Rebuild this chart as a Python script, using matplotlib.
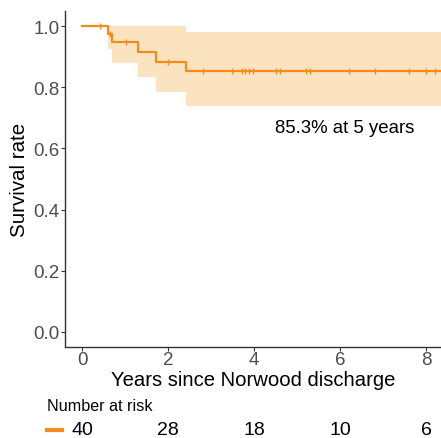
import matplotlib as mpl
mpl.use("Agg")
import matplotlib.pyplot as plt
import matplotlib.transforms as mtransforms
import numpy as np

# Kaplan-Meier estimate
km_time = [0.0, 0.61, 0.70, 1.31, 1.72, 2.42, 8.5]
km_surv = [1.0, 0.975, 0.947, 0.916, 0.884, 0.853, 0.853]
km_upper = [1.0, 1.0, 1.0, 1.0, 1.0, 0.981, 0.981]
km_lower = [1.0, 0.925, 0.878, 0.833, 0.786, 0.739, 0.739]
censor_times = [0.42, 0.64, 1.02, 2.0, 2.82, 3.5, 3.71, 3.80, 3.89, 3.98,
                4.51, 4.60, 5.21, 5.30, 6.21, 6.81, 7.60, 8.01, 8.21]
risk_times = [0, 2, 4, 6, 8]
risk_counts = [40, 28, 18, 10, 6]
annotation = "85.3% at 5 years"

line_col = "#F28C1E"
band_col = "#FCE3C0"

plt.rcParams["font.family"] = ["Liberation Sans", "DejaVu Sans"]

fig = plt.figure(figsize=(4.41, 4.39), dpi=100)
ax = fig.add_axes([0.147, 0.207, 0.853, 0.766])

ax.fill_between(km_time, km_lower, km_upper, step="post", color=band_col, lw=0)
ax.step(km_time, km_surv, where="post", color=line_col, lw=1.6)

# censor marks sit on the step curve
idx = np.searchsorted(km_time, censor_times, side="right") - 1
cens_surv = np.array(km_surv)[idx]
ax.plot(censor_times, cens_surv, ls="none", marker="|", ms=5, mew=1.0, color=line_col)

ax.text(6.1, 0.668, annotation, ha="center", va="center", fontsize=13.4, color="black")

ax.set_xlim(-0.4, 8.35)
ax.set_ylim(-0.05, 1.05)
ax.set_xticks([0, 2, 4, 6, 8])
ax.set_yticks([0.0, 0.2, 0.4, 0.6, 0.8, 1.0])
ax.set_yticklabels(["0.0", "0.2", "0.4", "0.6", "0.8", "1.0"])
ax.tick_params(axis="both", labelsize=13.5, colors="#333333", labelcolor="#4D4D4D",
               length=3, width=0.8, pad=1)
ax.tick_params(axis="x", pad=0)
for s in ["top", "right"]:
    ax.spines[s].set_visible(False)
for s in ["left", "bottom"]:
    ax.spines[s].set_color("#333333")
    ax.spines[s].set_linewidth(1.0)

ax.set_xlabel("Years since Norwood discharge", fontsize=14.6, labelpad=1)
ax.set_ylabel("Survival rate", fontsize=14.8, labelpad=3)

# number at risk table
trans = mtransforms.blended_transform_factory(ax.transData, fig.transFigure)
fig.text(0.107, 1 - 407 / 439, "Number at risk", fontsize=11.6, ha="left", va="center")
for t, n in zip(risk_times, risk_counts):
    ax.text(t, 1 - 431 / 439, str(n), transform=trans, ha="center", va="center",
            fontsize=14, clip_on=False)
fig.lines.append(plt.Line2D([47 / 441, 62 / 441], [1 - 431 / 439] * 2,
                            transform=fig.transFigure, color=line_col, lw=3))

fig.savefig("out.png", dpi=100)
